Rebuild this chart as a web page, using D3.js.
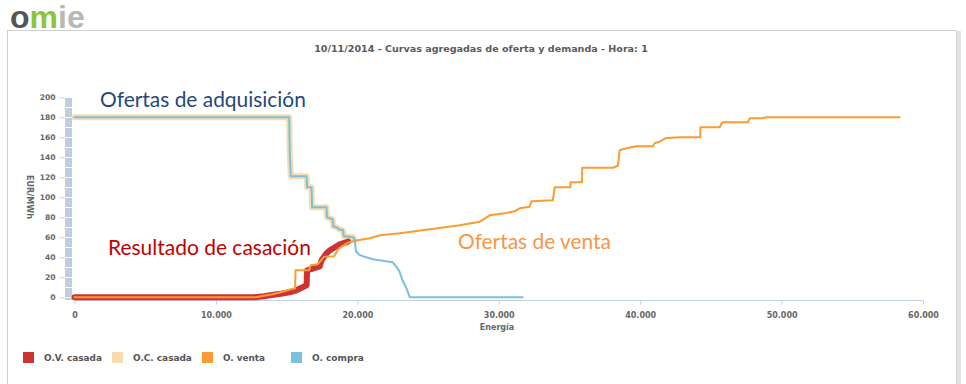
<!DOCTYPE html>
<html><head><meta charset="utf-8">
<script src="https://cdn.jsdelivr.net/npm/d3@7"></script>
<style>html,body{margin:0;padding:0;background:#fff;}svg{display:block;}</style>
</head><body>
<svg id="c" width="966" height="384"></svg>
<script>
// ---------- DATA ----------
const chartTitle = "10/11/2014 - Curvas agregadas de oferta y demanda - Hora: 1";
const xTicks = [0, 10000, 20000, 30000, 40000, 50000, 60000];
const xTickLabels = ["0", "10.000", "20.000", "30.000", "40.000", "50.000", "60.000"];
const yTicks = [0, 20, 40, 60, 80, 100, 120, 140, 160, 180, 200];
const xTitle = "Energía";
const yTitle = "EUR/MWh";
const seriesNames = ["O.V. casada", "O.C. casada", "O. venta", "O. compra"];

// O. compra (aggregated demand curve): [energy MWh, price EUR/MWh]
const compraEnergy = [0, 15180, 15230, 15300, 16410, 16430, 16440, 16760, 16800, 17820, 17850, 18250, 18300, 18530, 18700, 18980, 19050, 19700, 19820, 19900, 20100, 20400, 21100, 22500, 22800, 23000, 23200, 23500, 23710, 31700];
const compraPrice  = [180, 180, 140, 121, 121, 118, 110, 110, 90, 90, 80, 78, 71, 70, 68, 67, 61, 60, 57, 46, 43, 41, 38, 35, 30, 25, 17, 8, 0, 0];

// O.C. casada (matched demand)
const ocCasadaEnergy = [0, 15180, 15230, 15300, 16410, 16430, 16440, 16760, 16800, 17820, 17850, 18250, 18300, 18530, 18700, 18980, 19050, 19700, 19820];
const ocCasadaPrice  = [180, 180, 140, 121, 121, 118, 110, 110, 90, 90, 80, 78, 71, 70, 68, 67, 61, 60, 57];

// O. venta (aggregated supply curve)
const ventaEnergy = [0, 12800, 13400, 14000, 14700, 15300, 15600, 15630, 16580, 16700, 17200, 17650, 18360, 18700, 19250, 19820, 20880, 21590, 23000, 25140, 27240, 28660, 29360, 30420, 31130, 31480, 32190, 32310, 33820, 33960, 35070, 35080, 35890, 35900, 38080, 38430, 38550, 39020, 39730, 40900, 41020, 41380, 41780, 42790, 44250, 44260, 45620, 45810, 47620, 47740, 48660, 48920, 58340];
const ventaPrice  = [0, 0, 1.5, 3, 5.5, 8, 9, 27, 27, 32, 33, 40.6, 41, 49, 54, 56.6, 59, 62, 64, 68, 72, 75.6, 82, 84, 86, 89, 90.6, 96, 97, 110, 110, 115, 115, 129.6, 129.6, 131.6, 147, 149, 151, 151, 154, 155.6, 159, 160, 160, 170, 170, 175, 175, 179, 179, 180, 180];

// O.V. casada (matched supply)
const ovCasadaEnergy = [0, 12700, 13400, 14300, 14600, 15200, 15700, 16410, 16450, 17350, 17470, 17820, 18060, 18760, 19350];
const ovCasadaPrice  = [0, 0, 1, 3, 3.5, 5, 7, 12, 27, 31, 37, 44, 47, 53, 55.6];

const colors = { ovCasada: "#cc3333", ocCasada: "#f8dcb0", venta: "#fb9c33", compra: "#7cc0de" };

const notes = [
  { text: "Ofertas de adquisición", color: "#1f497d" },
  { text: "Resultado de casación", color: "#c00000" },
  { text: "Ofertas de venta", color: "#f79646" }
];

// ---------- DRAW ----------
const svg = d3.select("#c");
function fit(sel, w) {
  const len = sel.node().getComputedTextLength();
  const fs = parseFloat(sel.attr("font-size"));
  sel.attr("font-size", (fs * w / len).toFixed(2));
  return sel;
}

// logo
const logo = svg.append("text").attr("x", 10).attr("y", 28)
  .attr("font-family", "Liberation Sans, Arial, sans-serif").attr("font-weight", "bold").attr("font-size", 32);
logo.append("tspan").attr("fill", "#555").text("o");
logo.append("tspan").attr("fill", "#8cc43c").text("m");
logo.append("tspan").attr("fill", "#b8b8b8").text("ie");

// frame
svg.append("rect").attr("x", 957).attr("y", 31).attr("width", 4).attr("height", 360).attr("fill", "#e2e2e2");
svg.append("rect").attr("x", 7.5).attr("y", 30.5).attr("width", 949).attr("height", 360)
  .attr("fill", "#fff").attr("stroke", "#cfcfcf");

// title
const title = svg.append("text").attr("x", 481).attr("y", 51.5).attr("text-anchor", "middle")
  .attr("font-family", "DejaVu Sans, Verdana, sans-serif").attr("font-weight", "bold")
  .attr("font-size", 10).attr("fill", "#5a5a5a").text(chartTitle);
fit(title, 334);

const x = d3.scaleLinear().domain([0, 60000]).range([74.5, 923]);
const y = d3.scaleLinear().domain([0, 200]).range([297.3, 97.3]);
const axisColor = "#c4d2e0";
const labelFont = "DejaVu Sans, Verdana, sans-serif";

// y axis bar
const gy = svg.append("g");
gy.append("rect").attr("x", 65).attr("y", y(200)).attr("width", 7).attr("height", 300 - y(200)).attr("fill", "#bfcddc");
gy.selectAll("line.sep").data(d3.range(0, 201, 10)).join("line").attr("class", "sep")
  .attr("x1", 65).attr("x2", 72).attr("y1", d => Math.round(y(d)) + 0.5).attr("y2", d => Math.round(y(d)) + 0.5)
  .attr("stroke", "#fff").attr("stroke-width", 1);
const yAxis = d3.axisLeft(y).tickValues(yTicks).tickSize(5).tickPadding(4).tickFormat(d3.format("d"));
const gya = svg.append("g").attr("transform", "translate(64.5,0)").call(yAxis);
gya.select(".domain").remove();
gya.selectAll(".tick line").attr("stroke", axisColor);
gya.selectAll(".tick text").attr("font-family", labelFont).attr("font-weight", "bold").attr("font-size", 7.6).attr("fill", "#666");

// x axis
const xAxis = d3.axisBottom(x).tickValues(xTicks).tickSize(4).tickPadding(8).tickFormat((d, i) => xTickLabels[i]);
const gxa = svg.append("g").attr("transform", "translate(0,300.5)").call(xAxis);
gxa.select(".domain").attr("stroke", axisColor).attr("d", `M${x(0)},0H${x(60000)}`);
gxa.selectAll(".tick line").attr("stroke", axisColor);
gxa.selectAll(".tick text").attr("font-family", labelFont).attr("font-weight", "bold").attr("font-size", 8).attr("fill", "#666");

svg.append("text").attr("x", 497).attr("y", 330).attr("text-anchor", "middle")
  .attr("font-family", labelFont).attr("font-weight", "bold").attr("font-size", 8).attr("fill", "#666").text(xTitle);
const yt = svg.append("text").attr("transform", "translate(27,197) rotate(90)").attr("text-anchor", "middle")
  .attr("font-family", labelFont).attr("font-weight", "bold").attr("font-size", 7.6).attr("fill", "#666").text(yTitle);
fit(yt, 44);

// lines
const line = d3.line().x(d => x(d[0])).y(d => y(d[1]));
const zip = (a, b) => a.map((v, i) => [v, b[i]]);
const plot = svg.append("g").attr("fill", "none").attr("stroke-linejoin", "round").attr("stroke-linecap", "round");
plot.append("path").attr("d", line(zip(ocCasadaEnergy, ocCasadaPrice))).attr("stroke", colors.ocCasada).attr("stroke-width", 6);
plot.append("path").attr("d", line(zip(ovCasadaEnergy, ovCasadaPrice))).attr("stroke", colors.ovCasada).attr("stroke-width", 6);
plot.append("path").attr("d", line(zip(ventaEnergy, ventaPrice))).attr("stroke", colors.venta).attr("stroke-width", 2);
plot.append("path").attr("d", line(zip(compraEnergy, compraPrice))).attr("stroke", colors.compra).attr("stroke-width", 2);

// annotations
const notePos = [[100, 107, 206], [108, 255, 203], [458, 249, 153]];
notes.forEach((n, i) => {
  const t = svg.append("text").attr("x", notePos[i][0]).attr("y", notePos[i][1])
    .attr("font-family", "Lato, 'Open Sans', sans-serif").attr("font-size", 20).attr("fill", n.color).text(n.text);
  fit(t, notePos[i][2]);
});

// legend
const legColors = [colors.ovCasada, colors.ocCasada, colors.venta, colors.compra];
const legX = [23, 112, 202, 291];
const legW = [58, 59, 42, 52];
seriesNames.forEach((s, i) => {
  svg.append("rect").attr("x", legX[i]).attr("y", 352).attr("width", 11).attr("height", 11).attr("fill", legColors[i]);
  const t = svg.append("text").attr("x", legX[i] + 21).attr("y", 361)
    .attr("font-family", labelFont).attr("font-weight", "bold").attr("font-size", 9).attr("fill", "#555").text(s);
  fit(t, legW[i]);
});
</script>
</body></html>
